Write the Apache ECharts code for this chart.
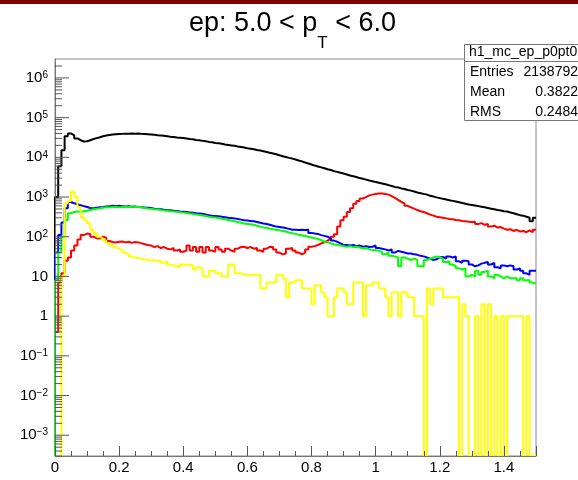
<!DOCTYPE html>
<html><head><meta charset="utf-8">
<script src="https://cdn.jsdelivr.net/npm/echarts@6/dist/echarts.min.js"></script>
<style>html,body{margin:0;padding:0;background:#fff}#c{width:578px;height:480px}</style>
</head><body><div id="c"></div>
<script>
const FONT = '"Liberation Sans", Arial, Helvetica, sans-serif';
const BIN_WIDTH = 0.01;
const X_MIN = 0, X_MAX = 1.5;
const Y_MIN = 3e-4, Y_MAX = 3e6;
const Y_DECADES = [-4, -3, -2, -1, 0, 1, 2, 3, 4, 5, 6];
const TITLE_MAIN = 'ep: 5.0 < p';
const TITLE_SUB = 'T';
const TITLE_END = ' < 6.0';
const STATS_NAME = 'h1_mc_ep_p0pt0';
const STATS_LABELS = ['Entries', 'Mean', 'RMS'];
const STATS_VALUES = ['2138792', '0.3822', '0.2484'];

const BLACK = [
  1000, 6000, 15000, 34000, 40000, 36000, 30000, 27000, 25000, 25500,
  27000, 29000, 30500, 32000, 34000, 35500, 36500, 37500, 38000, 38500,
  39000, 39500, 39500, 40000, 39500, 40000, 39000, 38500, 38000, 37500,
  37000, 36000, 35500, 35000, 34000, 33000, 32500, 31500, 31000, 30500,
  30000, 29000, 28500, 27500, 27000, 26000, 25500, 24500, 24000, 23000,
  22500, 22000, 21000, 20500, 20000, 19500, 18800, 18200, 17600, 17000,
  16500, 16000, 15300, 14800, 14200, 13600, 13000, 12500, 12000, 11300,
  10700, 10200, 9700, 9300, 8800, 8300, 7900, 7400, 7000, 6600,
  6200, 5900, 5600, 5300, 5000, 4800, 4500, 4300, 4100, 3900,
  3700, 3500, 3350, 3200, 3000, 2900, 2750, 2600, 2500, 2400,
  2300, 2200, 2100, 2000, 1900, 1800, 1750, 1650, 1600, 1500,
  1450, 1380, 1300, 1250, 1200, 1150, 1080, 1030, 980, 940,
  900, 870, 830, 800, 770, 740, 710, 680, 650, 630,
  610, 590, 570, 550, 530, 510, 490, 470, 460, 440,
  430, 410, 390, 370, 350, 340, 320, 300, 245, 300
];
const RED = [
  0.4, 7, 12, 25, 30, 45, 60, 85, 110, 120,
  115, 100, 92, 90, 100, 95, 78, 74, 72, 75,
  76, 72, 75, 70, 74, 72, 68, 65, 62, 60,
  55, 58, 52, 55, 50, 48, 52, 45, 48, 42,
  45, 60, 45, 55, 42, 55, 40, 55, 45, 42,
  55, 48, 42, 50, 45, 42, 50, 55, 56, 52,
  55, 50, 52, 45, 42, 50, 56, 55, 48, 40,
  36, 38, 50, 52, 45, 40, 36, 40, 48, 56,
  58, 62, 68, 72, 80, 88, 100, 115, 180, 260,
  320, 420, 520, 680, 800, 920, 1000, 1100, 1150, 1200,
  1230, 1220, 1200, 1150, 1050, 950, 850, 760, 680, 600,
  550, 510, 470, 440, 420, 390, 360, 340, 320, 310,
  300, 290, 280, 275, 265, 260, 250, 245, 240, 235,
  240, 210, 220, 200, 210, 180, 190, 170, 175, 160,
  150, 155, 140, 150, 135, 140, 130, 145, 130, 150
];
const BLUE = [
  40, 110, 230, 520, 750, 700, 660, 620, 590, 560,
  530, 520, 540, 550, 560, 580, 590, 600, 590, 600,
  590, 580, 590, 570, 580, 560, 555, 545, 540, 530,
  510, 500, 495, 480, 470, 465, 450, 445, 430, 425,
  420, 410, 400, 390, 385, 380, 365, 350, 340, 335,
  330, 320, 310, 300, 295, 290, 280, 270, 260, 255,
  250, 245, 235, 225, 215, 210, 200, 190, 180, 175,
  170, 165, 158, 150, 150, 148, 150, 148, 150, 125,
  120, 118, 110, 105, 100, 90, 80, 75, 68, 62,
  62, 60, 62, 58, 60, 56, 58, 55, 56, 60,
  52, 50, 48, 45, 48, 40, 44, 42, 40, 38,
  38, 36, 35, 33, 32, 30, 28, 26, 27, 30,
  31, 28, 32, 30, 32, 24, 22, 25, 24, 20,
  18, 19, 21, 22, 23, 20, 22, 17, 16, 19,
  18, 19, 18, 15, 16, 14, 12, 11, 14, 14
];
const GREEN = [
  8, 40, 100, 260, 390, 420, 430, 430, 440, 450,
  470, 490, 510, 520, 540, 550, 550, 560, 560, 555,
  560, 565, 560, 575, 565, 560, 550, 530, 515, 510,
  495, 485, 470, 460, 450, 440, 430, 425, 415, 405,
  395, 385, 375, 365, 355, 345, 335, 320, 310, 305,
  295, 285, 275, 265, 255, 245, 235, 225, 215, 210,
  205, 200, 190, 180, 172, 168, 160, 155, 150, 145,
  140, 135, 128, 122, 118, 112, 108, 104, 100, 96,
  92, 88, 82, 76, 72, 68, 64, 62, 60, 58,
  56, 58, 55, 56, 54, 50, 52, 48, 46, 46,
  44, 42, 36, 40, 33, 32, 30, 18, 30, 28,
  26, 28, 26, 18, 18, 26, 28, 30, 32, 30,
  28, 23, 24, 20, 18, 16, 15, 16, 10, 11,
  10, 14, 11, 13, 14, 10, 9, 11, 10, 9,
  10, 9, 9, 9, 8, 9, 8, 8, 7, 6.6
];
const YELLOW = [
  0, 0, 10, 700, 800, 1350, 1000, 560, 320, 260,
  220, 150, 120, 100, 90, 80, 70, 62, 55, 50,
  45, 40, 36, 32, 30, 29, 28, 27, 26, 25,
  26, 24, 25, 22, 24, 20, 19, 18, 17, 20,
  19, 20, 19, 15, 17, 16, 10, 10, 14, 14,
  12, 12, 10, 10, 20, 20, 12, 12, 11, 11,
  11, 11, 11, 11, 5, 5, 7, 7, 7, 11,
  11, 9, 3, 7, 7, 8, 8, 5, 5, 5,
  2, 6, 6, 4, 3, 1, 1, 3, 5, 5,
  4, 2, 2, 7, 7, 7, 1, 6, 6, 7,
  7, 5, 5, 3, 1, 4, 4, 1, 4, 4,
  3, 3, 1, 1, 1, 0, 5, 2, 5, 5,
  5, 3, 3, 3, 3, 3, 0, 2, 1, 0,
  0, 1, 0, 2, 0, 2, 0, 1, 0, 1,
  0, 1, 1, 1, 1, 1, 0, 1, 0, 0
];

function toSteps(vals) {
  const pts = [[X_MIN, Y_MIN]];
  vals.forEach((v, i) => pts.push([+(i * BIN_WIDTH).toFixed(2), v > 0 ? v : Y_MIN]));
  const last = vals[vals.length - 1];
  pts.push([X_MAX, last > 0 ? last : Y_MIN]);
  return pts;
}
function hist(name, vals, color) {
  return {
    name, type: 'line', step: 'end', data: toSteps(vals), showSymbol: false, symbol: 'none',
    lineStyle: { color, width: 2 }, itemStyle: { color }, clip: true, animation: false, silent: true
  };
}
const minorTicks = [];
const majorTicks = [];
Y_DECADES.forEach(e => {
  const d = Math.pow(10, e);
  if (d > Y_MIN && d < Y_MAX) majorTicks.push([X_MIN, d, e]);
  for (let m = 2; m <= 9; m++) {
    const v = m * d;
    if (v > Y_MIN && v < Y_MAX) minorTicks.push([X_MIN, v]);
  }
});
function labelFor(e) {
  if (e === 0) return '1';
  if (e === 1) return '10';
  return '10{s|' + (e < 0 ? '\u2212' + (-e) : e) + '}';
}

const chart = echarts.init(document.getElementById('c'), null, { renderer: 'canvas' });
chart.setOption({
  animation: false,
  backgroundColor: '#fff',
  title: {
    text: TITLE_MAIN + '{sub|' + TITLE_SUB + '}' + TITLE_END,
    left: 189, top: -4, padding: 0,
    textStyle: {
      fontFamily: FONT, fontSize: 27, fontWeight: 'normal', color: '#000', lineHeight: 56,
      rich: { sub: { fontFamily: FONT, fontSize: 17, lineHeight: 17, verticalAlign: 'bottom', color: '#000' } }
    }
  },
  grid: { left: 55, right: 42, top: 59, bottom: 24, show: true, borderColor: '#888', borderWidth: 1, containLabel: false },
  xAxis: {
    type: 'value', min: X_MIN, max: X_MAX, interval: 0.2, z: 4,
    splitLine: { show: false },
    axisLine: { show: true, onZero: false, lineStyle: { color: '#777', width: 1 } },
    axisTick: { show: true, inside: true, length: 10, lineStyle: { color: '#555' } },
    minorTick: { show: true, splitNumber: 4, length: 5, lineStyle: { color: '#555' } },
    axisLabel: {
      showMaxLabel: false, margin: 4, fontFamily: FONT, fontSize: 15, color: '#000',
      formatter: v => (Math.abs(v - 1.5) < 1e-6 ? '' : String(+v.toFixed(1)))
    }
  },
  yAxis: {
    type: 'log', logBase: 10, min: Y_MIN, max: Y_MAX, z: 4,
    splitLine: { show: false },
    axisLine: { show: true, onZero: false, lineStyle: { color: '#777', width: 1 } },
    axisTick: { show: false },
    axisLabel: { show: false }
  },
  series: [
    hist('all', BLACK, '#000000'),
    hist('red', RED, '#ff0000'),
    hist('blue', BLUE, '#0000ff'),
    hist('green', GREEN, '#00ff00'),
    hist('yellow', YELLOW, '#ffff00'),
    {
      type: 'custom', coordinateSystem: 'cartesian2d', data: minorTicks, silent: true, z: 5, clip: false,
      renderItem: (params, api) => {
        const p = api.coord([api.value(0), api.value(1)]);
        return { type: 'line', shape: { x1: p[0], y1: p[1], x2: p[0] + 7, y2: p[1] }, style: { stroke: '#555', lineWidth: 1 } };
      }
    },
    {
      type: 'custom', coordinateSystem: 'cartesian2d', data: majorTicks, silent: true, z: 5, clip: false,
      renderItem: (params, api) => {
        const p = api.coord([api.value(0), api.value(1)]);
        const e = api.value(2);
        return {
          type: 'group', children: [
            { type: 'line', shape: { x1: p[0], y1: p[1], x2: p[0] + 14, y2: p[1] }, style: { stroke: '#555', lineWidth: 1 } },
            {
              type: 'text', x: p[0] - 7, y: p[1], style: {
                text: labelFor(e), fill: '#000', font: '15px ' + FONT, align: 'right', verticalAlign: 'middle',
                rich: { s: { fontFamily: FONT, fontSize: 10, lineHeight: 10, verticalAlign: 'top', fill: '#000' } }
              }
            }
          ]
        };
      }
    }
  ],
  graphic: [
    { type: 'rect', left: 0, top: 0, shape: { width: 578, height: 4 }, style: { fill: '#7d0000' }, silent: true },
    { type: 'rect', shape: { x: 464.5, y: 44.5, width: 130, height: 76 }, style: { fill: '#fff', stroke: '#777', lineWidth: 1 }, z: 100, silent: true },
    { type: 'line', shape: { x1: 464.5, y1: 61.5, x2: 600, y2: 61.5 }, style: { stroke: '#777', lineWidth: 1 }, z: 101, silent: true },
    { type: 'text', x: 469, y: 52, style: { text: STATS_NAME, font: '14px ' + FONT, fill: '#000', verticalAlign: 'middle' }, z: 102, silent: true }
  ].concat(STATS_LABELS.map((t, i) => ({
    type: 'text', x: 470, y: 72 + i * 20, style: { text: t, font: '14px ' + FONT, fill: '#000', verticalAlign: 'middle' }, z: 102, silent: true
  }))).concat(STATS_VALUES.map((t, i) => ({
    type: 'text', x: 578, y: 72 + i * 20, style: { text: t, font: '14px ' + FONT, fill: '#000', verticalAlign: 'middle', align: 'right' }, z: 102, silent: true
  })))
});
</script></body></html>
